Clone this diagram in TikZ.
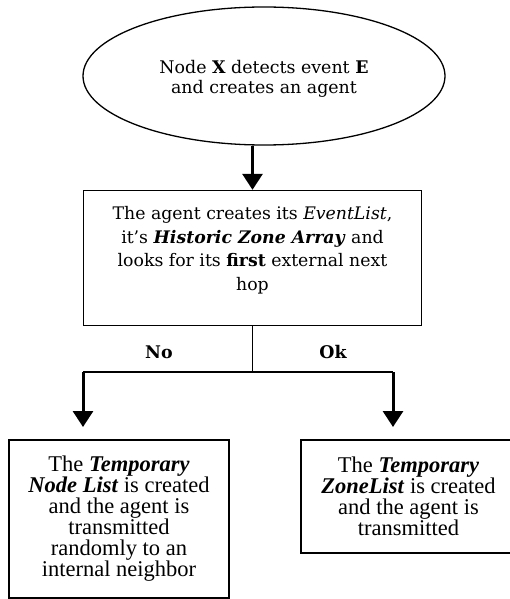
\documentclass[tikz,border=0pt]{standalone}
\usepackage{fontspec}
\setmainfont{Liberation Serif}
\newfontfamily\headfont{DejaVu Serif}
\usetikzlibrary{shapes.geometric,arrows.meta}

\begin{document}
\begin{tikzpicture}[x=1pt,y=-1pt,
  flowbox/.style={draw, line width=1.4pt, inner sep=0pt},
  bigarrow/.style={line width=3pt, -{Triangle[width=20pt,length=16pt]}},
  thinline/.style={line width=1.3pt},
  headtext/.style={align=center, font=\headfont\fontsize{17.3}{23.5}\selectfont},
  bodytext/.style={align=center, font=\fontsize{22.5}{21}\selectfont},
]
\useasboundingbox (0,0) rectangle (509,599);

% start event
\node[draw, ellipse, line width=1.3pt, minimum width=362pt, minimum height=138pt, inner sep=0pt] (e) at (264,76) {};
\node[headtext, font=\headfont\fontsize{17.4}{20}\selectfont] (et) at (264,79)
  {Node \textbf{X} detects event \textbf{E}\\and creates an agent};

% agent creation step
\node[flowbox, minimum width=338pt, minimum height=135pt] (b) at (252.5,258) {};
\node[headtext] (bt) at (252.5,250)
  {The agent creates its \textit{EventList},\\
   it’s \textbf{\textit{Historic Zone Array}} and\\
   looks for its \textbf{first} external next\\
   hop};
\draw[bigarrow] (b.north |- e.south) -- (b.north);

% branch
\coordinate (j)  at (252.5,372);
\coordinate (jl) at (83,372);
\coordinate (jr) at (393,372);
\coordinate (tl) at (83,427);
\coordinate (tr) at (393,427);
\draw[thinline] (b.south) -- (j);
\draw[thinline] (jl) -- (jr);
\node[headtext, font=\headfont\bfseries\fontsize{17.4}{20}\selectfont] (no) at (159,352) {No};
\node[headtext, font=\headfont\bfseries\fontsize{17.4}{20}\selectfont] (ok) at (333,352) {Ok};

% outcomes
\node[flowbox, bodytext, minimum width=220pt, minimum height=158pt] (l) at (119,519)
  {The \textbf{\textit{Temporary}}\\
   \textbf{\textit{Node List}} is created\\
   and the agent is\\
   transmitted\\
   randomly to an\\
   internal neighbor};
\node[flowbox, bodytext, minimum width=215pt, minimum height=113pt] (r) at (408.5,496.5)
  {The \textbf{\textit{Temporary}}\\
   \textbf{\textit{ZoneList}} is created\\
   and the agent is\\
   transmitted};
\draw[bigarrow] (jl) -- (tl);
\draw[bigarrow] (jr) -- (tr);
\end{tikzpicture}
\end{document}
